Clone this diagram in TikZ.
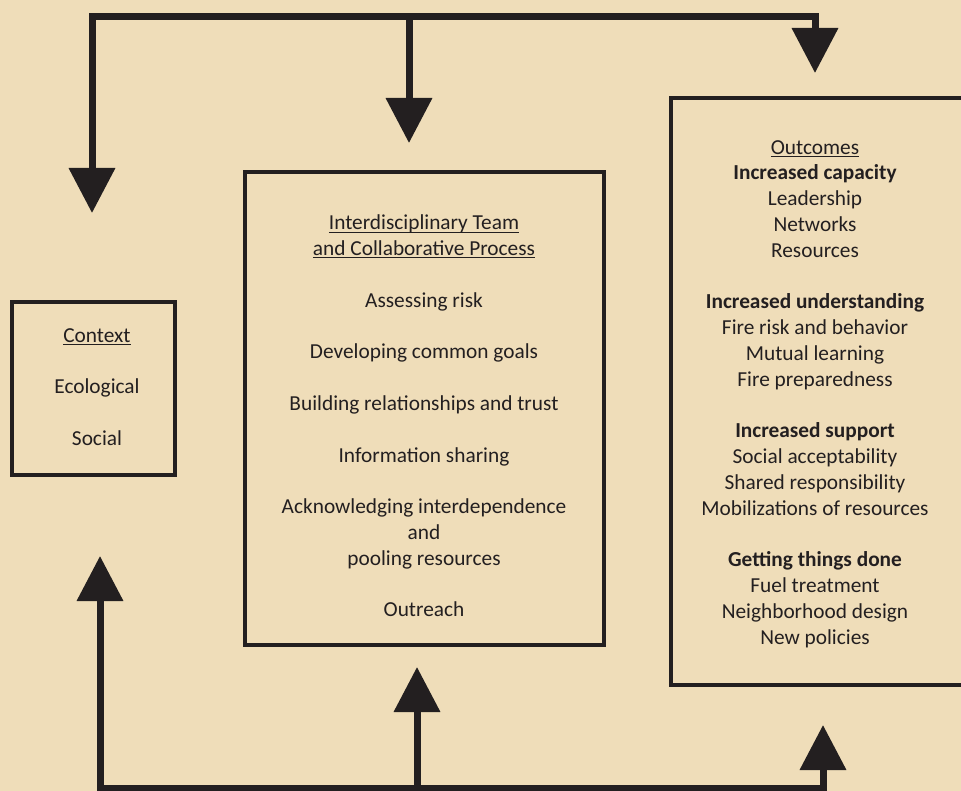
\documentclass[tikz,border=0pt]{standalone}
\usepackage{fontspec}
\setmainfont{Carlito}
\usepackage{tikz}
\usetikzlibrary{arrows.meta,positioning}
\definecolor{fcBack}{HTML}{EFDDB9}
\definecolor{fcInk}{HTML}{231F20}
\newcommand{\ulhead}[1]{\underline{\smash{#1}}}
\newcommand{\gapline}{\\[19.35pt]}
\tikzset{
  fc diagram/.style={x=0.75pt, y=-0.75pt, text=fcInk,
    font=\fontsize{16}{19.35}\selectfont},
  fc box/.style={draw=fcInk, line width=3pt, inner sep=0pt},
  fc text/.style={align=center, inner sep=0pt},
  fc flow/.style={draw=fcInk, line width=5.25pt, -{Triangle[length=33.75pt, width=33.75pt]}},
  fc both/.style={draw=fcInk, line width=5.25pt,
    {Triangle[length=33.75pt, width=33.75pt]}-{Triangle[length=33.75pt, width=33.75pt]}}
}
\begin{document}
\begin{tikzpicture}[fc diagram]
\path[fill=fcBack, use as bounding box] (0,0) rectangle (961,791);
% boxes
\node[fc box, minimum width=122.25pt, minimum height=129.75pt] (ctx) at (93.5,388.5) {};
\node[fc box, minimum width=269.25pt, minimum height=354.75pt] (team) at (424.5,408.5) {};
\node[fc box, minimum width=228pt, minimum height=439.9pt] (out) at (823,391.75) {};
% box texts
\node[fc text] (ctx text) at (97,394) {\ulhead{Context}\gapline Ecological\gapline Social};
\node[fc text] (team text) at (424,423.5) {\ulhead{Interdisciplinary Team}\\
  \ulhead{and Collaborative Process}\gapline
  Assessing risk\gapline
  Developing common goals\gapline
  Building relationships and trust\gapline
  Information sharing\gapline
  Acknowledging interdependence\\ and\\ pooling resources\gapline
  Outreach};
\node[fc text] (out text) at (815,401) {\ulhead{Outcomes}\\
  \textbf{Increased capacity}\\ Leadership\\ Networks\\ Resources\gapline
  \textbf{Increased understanding}\\ Fire risk and behavior\\ Mutual learning\\ Fire preparedness\gapline
  \textbf{Increased support}\\ Social acceptability\\ Shared responsibility\\ Mobilizations of resources\gapline
  \textbf{Getting things done}\\ Fuel treatment\\ Neighborhood design\\ New policies};
% feedback loop on top
\coordinate (top left) at (92,16.5);
\coordinate (top mid) at (409,16.5);
\coordinate (top right) at (815,16.5);
\coordinate (ctx in) at (92,213);
\coordinate (team in) at (409,143);
\coordinate (out in) at (815,73);
\draw[fc both] (ctx in) -- (top left) -- (top right) -- (out in);
\draw[fc flow] (top mid) -- (team in);
% loop at the bottom
\coordinate (bot left) at (100,788);
\coordinate (bot mid) at (417,788);
\coordinate (bot right) at (823,788);
\coordinate (ctx up) at (100,556);
\coordinate (team up) at (417,667);
\coordinate (out up) at (823,725);
\draw[fc both] (ctx up) -- (bot left) -- (bot right) -- (out up);
\draw[fc flow] (bot mid) -- (team up);
\end{tikzpicture}
\end{document}
